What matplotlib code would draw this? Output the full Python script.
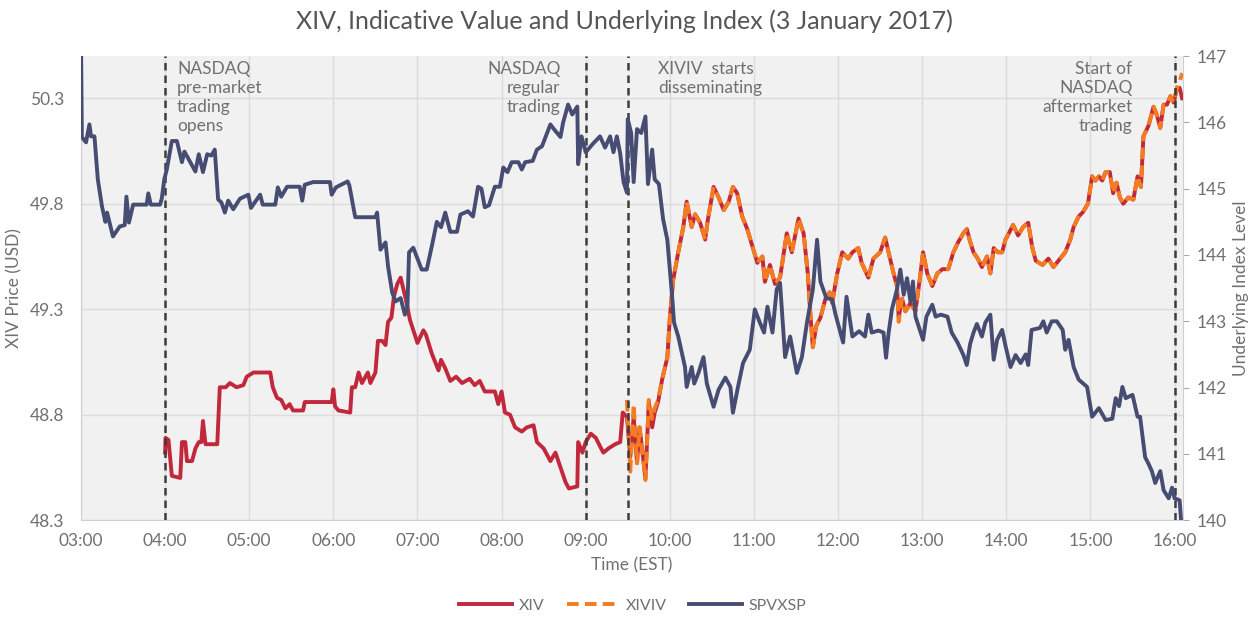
import matplotlib.pyplot as plt
import numpy as np

# time in decimal hours (EST)
spv_t = [3.00, 3.01, 3.06, 3.10, 3.12, 3.16, 3.20, 3.25, 3.29, 3.31, 3.38, 3.46, 3.52, 3.54, 3.57,
         3.62, 3.78, 3.80, 3.83, 3.94, 3.96, 3.99, 4.02, 4.08, 4.14, 4.20, 4.23, 4.30, 4.36, 4.40,
         4.45, 4.50, 4.55, 4.59, 4.63, 4.67, 4.71, 4.75, 4.81, 4.89, 4.99, 5.02, 5.13, 5.16, 5.31,
         5.34, 5.38, 5.45, 5.60, 5.63, 5.66, 5.76, 5.96, 5.98, 6.03, 6.17, 6.19, 6.26, 6.50, 6.52,
         6.56, 6.62, 6.65, 6.70, 6.74, 6.80, 6.85, 6.88, 6.90, 6.95, 7.05, 7.11, 7.17, 7.23, 7.28,
         7.33, 7.39, 7.47, 7.51, 7.60, 7.66, 7.72, 7.76, 7.80, 7.85, 7.92, 7.98, 8.02, 8.07, 8.12,
         8.20, 8.24, 8.28, 8.37, 8.42, 8.48, 8.58, 8.64, 8.70, 8.73, 8.79, 8.84, 8.90, 8.91, 8.95,
         9.00, 9.08, 9.17, 9.23, 9.29, 9.33, 9.37, 9.41, 9.45, 9.49, 9.50, 9.54, 9.57, 9.61, 9.66,
         9.71, 9.74, 9.79, 9.82, 9.87, 9.92, 9.97, 10.03, 10.05, 10.10, 10.18, 10.20, 10.26, 10.29,
         10.34, 10.40, 10.44, 10.52, 10.58, 10.66, 10.72, 10.75, 10.81, 10.87, 10.95, 11.01, 11.07,
         11.12, 11.16, 11.22, 11.27, 11.31, 11.37, 11.43, 11.51, 11.57, 11.63, 11.70, 11.75, 11.79,
         11.86, 11.93, 11.97, 12.06, 12.10, 12.17, 12.25, 12.32, 12.36, 12.40, 12.48, 12.54, 12.57,
         12.60, 12.64, 12.70, 12.74, 12.78, 12.82, 12.86, 12.89, 12.92, 13.01, 13.05, 13.12, 13.16,
         13.22, 13.30, 13.35, 13.42, 13.49, 13.53, 13.57, 13.61, 13.65, 13.71, 13.75, 13.81, 13.85,
         13.89, 13.95, 13.99, 14.05, 14.11, 14.17, 14.23, 14.26, 14.30, 14.40, 14.44, 14.48, 14.54,
         14.60, 14.67, 14.70, 14.74, 14.80, 14.86, 14.96, 15.02, 15.10, 15.18, 15.26, 15.30, 15.34,
         15.38, 15.42, 15.50, 15.56, 15.59, 15.65, 15.69, 15.73, 15.77, 15.83, 15.87, 15.93, 15.97,
         16.00, 16.06, 16.08]
spv_v = [147.3, 145.78, 145.70, 145.97, 145.79, 145.79, 145.14, 144.73, 144.50, 144.64, 144.28, 144.43,
         144.45, 144.88, 144.49, 144.76, 144.76, 144.93, 144.76, 144.76, 144.85, 145.14, 145.29, 145.72,
         145.72, 145.40, 145.56, 145.40, 145.26, 145.52, 145.25, 145.52, 145.50, 145.59, 144.84, 144.79,
         144.64, 144.82, 144.69, 144.85, 144.91, 144.71, 144.91, 144.76, 144.76, 145.02, 144.88, 145.03,
         145.03, 144.82, 145.06, 145.10, 145.10, 144.91, 145.02, 145.11, 145.05, 144.57, 144.57, 144.64,
         144.08, 144.19, 143.83, 143.43, 143.30, 143.35, 143.10, 143.20, 144.04, 144.11, 143.78, 143.78,
         144.13, 144.50, 144.42, 144.64, 144.35, 144.35, 144.61, 144.66, 144.58, 145.03, 145.00, 144.72,
         144.75, 145.03, 145.03, 145.32, 145.25, 145.40, 145.40, 145.29, 145.40, 145.42, 145.59, 145.64,
         145.97, 145.87, 145.78, 145.99, 146.27, 146.12, 146.24, 145.37, 145.79, 145.55, 145.67, 145.79,
         145.62, 145.79, 145.55, 145.79, 145.53, 145.10, 144.94, 146.05, 145.84, 145.10, 145.90, 145.84,
         146.09, 145.07, 145.59, 145.14, 145.07, 144.54, 144.23, 143.33, 142.98, 142.77, 142.31, 142.01,
         142.31, 142.06, 142.22, 142.46, 142.06, 141.71, 141.97, 142.15, 142.01, 141.62, 142.01, 142.37,
         142.57, 143.18, 142.98, 142.83, 143.22, 142.83, 143.48, 143.58, 142.46, 142.77, 142.22, 142.46,
         142.98, 143.48, 144.23, 143.60, 143.35, 143.33, 143.10, 142.68, 143.37, 142.77, 142.85, 142.77,
         143.10, 142.83, 142.86, 142.83, 142.45, 142.82, 143.18, 143.48, 143.78, 143.40, 143.65, 143.30,
         143.60, 143.07, 142.72, 143.07, 143.25, 143.07, 143.10, 143.07, 142.83, 142.68, 142.49, 142.34,
         142.66, 142.83, 142.96, 142.77, 142.98, 143.10, 142.42, 142.72, 142.87, 142.63, 142.31, 142.49,
         142.37, 142.50, 142.34, 142.87, 142.90, 143.00, 142.83, 143.00, 143.00, 142.87, 142.57, 142.72,
         142.31, 142.12, 142.01, 141.56, 141.69, 141.51, 141.53, 141.84, 141.72, 142.01, 141.84, 141.89,
         141.56, 141.56, 140.95, 140.85, 140.74, 140.56, 140.74, 140.45, 140.33, 140.49, 140.33, 140.30,
         139.95]

xiv_t = [4.00, 4.005, 4.04, 4.08, 4.18, 4.20, 4.24, 4.26, 4.32, 4.36, 4.40, 4.43, 4.45, 4.48, 4.62,
         4.65, 4.72, 4.77, 4.85, 4.93, 4.97, 5.05, 5.25, 5.28, 5.33, 5.38, 5.43, 5.48, 5.52, 5.64,
         5.66, 5.98, 6.00, 6.02, 6.06, 6.20, 6.22, 6.26, 6.30, 6.34, 6.41, 6.44, 6.50, 6.53, 6.58,
         6.62, 6.65, 6.69, 6.72, 6.76, 6.80, 6.86, 6.91, 7.00, 7.07, 7.10, 7.17, 7.25, 7.28, 7.33,
         7.39, 7.46, 7.53, 7.62, 7.68, 7.74, 7.80, 7.92, 7.96, 8.00, 8.04, 8.10, 8.16, 8.24, 8.30,
         8.38, 8.42, 8.50, 8.58, 8.64, 8.70, 8.76, 8.80, 8.90, 8.91, 8.96, 9.00, 9.06, 9.12, 9.17,
         9.21, 9.27, 9.35, 9.41, 9.44, 9.49, 9.53, 9.57, 9.61, 9.64, 9.71, 9.75, 9.79, 9.82, 9.86,
         9.91, 9.97, 10.00, 10.04, 10.10, 10.16, 10.20, 10.26, 10.30, 10.36, 10.42, 10.45, 10.52,
         10.58, 10.64, 10.70, 10.75, 10.80, 10.86, 10.92, 10.98, 11.04, 11.10, 11.13, 11.19, 11.25,
         11.31, 11.39, 11.45, 11.53, 11.59, 11.64, 11.67, 11.70, 11.74, 11.79, 11.85, 11.90, 11.93,
         11.99, 12.05, 12.12, 12.17, 12.24, 12.28, 12.36, 12.42, 12.50, 12.56, 12.60, 12.66, 12.70,
         12.72, 12.76, 12.80, 12.86, 12.92, 12.98, 13.01, 13.06, 13.12, 13.18, 13.24, 13.31, 13.37,
         13.43, 13.49, 13.53, 13.57, 13.61, 13.66, 13.71, 13.77, 13.81, 13.85, 13.90, 13.95, 13.99,
         14.03, 14.08, 14.14, 14.20, 14.26, 14.31, 14.35, 14.43, 14.50, 14.56, 14.62, 14.70, 14.76,
         14.80, 14.86, 14.91, 14.97, 15.02, 15.06, 15.10, 15.14, 15.18, 15.23, 15.27, 15.31, 15.35,
         15.39, 15.45, 15.51, 15.56, 15.60, 15.63, 15.69, 15.75, 15.79, 15.83, 15.87, 15.91, 15.95,
         15.99, 16.03, 16.06, 16.09]
xiv_v = [48.62, 48.69, 48.68, 48.51, 48.50, 48.67, 48.67, 48.58, 48.58, 48.64, 48.67, 48.67, 48.77,
         48.66, 48.66, 48.93, 48.93, 48.95, 48.93, 48.94, 48.98, 49.00, 49.00, 48.93, 48.88, 48.87,
         48.83, 48.85, 48.82, 48.82, 48.86, 48.86, 48.92, 48.84, 48.82, 48.81, 48.93, 48.93, 49.00,
         48.95, 49.00, 48.95, 49.00, 49.15, 49.15, 49.13, 49.24, 49.26, 49.36, 49.42, 49.45, 49.35,
         49.25, 49.14, 49.20, 49.18, 49.09, 49.01, 49.06, 49.02, 48.96, 48.98, 48.95, 48.97, 48.94,
         48.96, 48.91, 48.91, 48.85, 48.91, 48.81, 48.80, 48.74, 48.72, 48.74, 48.75, 48.67, 48.64,
         48.58, 48.62, 48.55, 48.48, 48.45, 48.46, 48.67, 48.62, 48.67, 48.71, 48.69, 48.65, 48.62,
         48.64, 48.66, 48.67, 48.81, 48.79, 48.60, 48.79, 48.57, 48.74, 48.50, 48.86, 48.74, 48.81,
         48.86, 48.97, 49.07, 49.26, 49.44, 49.57, 49.69, 49.81, 49.69, 49.75, 49.71, 49.63, 49.72,
         49.88, 49.83, 49.77, 49.81, 49.88, 49.85, 49.74, 49.68, 49.60, 49.52, 49.55, 49.43, 49.51,
         49.42, 49.45, 49.66, 49.57, 49.73, 49.66, 49.47, 49.28, 49.12, 49.22, 49.26, 49.35, 49.38,
         49.33, 49.47, 49.57, 49.54, 49.57, 49.59, 49.52, 49.45, 49.54, 49.57, 49.64, 49.57, 49.47,
         49.41, 49.26, 49.35, 49.29, 49.33, 49.29, 49.47, 49.57, 49.47, 49.41, 49.47, 49.49, 49.49,
         49.57, 49.62, 49.66, 49.68, 49.62, 49.57, 49.54, 49.50, 49.55, 49.47, 49.59, 49.57, 49.57,
         49.63, 49.66, 49.70, 49.65, 49.69, 49.71, 49.59, 49.53, 49.51, 49.54, 49.50, 49.53, 49.57,
         49.63, 49.69, 49.74, 49.76, 49.80, 49.93, 49.91, 49.93, 49.91, 49.95, 49.95, 49.85, 49.90,
         49.83, 49.80, 49.83, 49.82, 49.93, 49.88, 50.12, 50.17, 50.26, 50.22, 50.16, 50.27, 50.27,
         50.31, 50.28, 50.35, 50.35, 50.30]

xiviv_t = [9.49, 9.53, 9.57, 9.61, 9.64, 9.71, 9.75, 9.79, 9.82, 9.86, 9.91, 9.97, 10.00, 10.04,
           10.10, 10.16, 10.20, 10.26, 10.30, 10.36, 10.42, 10.45, 10.52, 10.58, 10.64, 10.70, 10.75,
           10.80, 10.86, 10.92, 10.98, 11.04, 11.10, 11.13, 11.19, 11.25, 11.31, 11.39, 11.45, 11.53,
           11.59, 11.64, 11.67, 11.70, 11.74, 11.79, 11.85, 11.90, 11.93, 11.99, 12.05, 12.12, 12.17,
           12.24, 12.28, 12.36, 12.42, 12.50, 12.56, 12.60, 12.66, 12.70, 12.72, 12.76, 12.80, 12.86,
           12.92, 12.98, 13.01, 13.06, 13.12, 13.18, 13.24, 13.31, 13.37, 13.43, 13.49, 13.53, 13.57,
           13.61, 13.66, 13.71, 13.77, 13.81, 13.85, 13.90, 13.95, 13.99, 14.03, 14.08, 14.14, 14.20,
           14.26, 14.31, 14.35, 14.43, 14.50, 14.56, 14.62, 14.70, 14.76, 14.80, 14.86, 14.91, 14.97,
           15.02, 15.06, 15.10, 15.14, 15.18, 15.23, 15.27, 15.31, 15.35, 15.39, 15.45, 15.51, 15.56,
           15.60, 15.63, 15.69, 15.75, 15.79, 15.83, 15.87, 15.91, 15.95, 15.99, 16.03, 16.06, 16.09]
xiviv_v = [48.87, 48.53, 48.85, 48.57, 48.74, 48.49, 48.87, 48.78, 48.83, 48.87, 48.97, 49.07, 49.26,
           49.44, 49.57, 49.69, 49.81, 49.69, 49.75, 49.71, 49.63, 49.72, 49.88, 49.83, 49.77, 49.81,
           49.88, 49.85, 49.74, 49.68, 49.60, 49.52, 49.55, 49.43, 49.51, 49.42, 49.45, 49.66, 49.57,
           49.73, 49.66, 49.47, 49.28, 49.12, 49.22, 49.26, 49.35, 49.38, 49.33, 49.47, 49.57, 49.54,
           49.57, 49.59, 49.52, 49.45, 49.54, 49.57, 49.64, 49.57, 49.47, 49.41, 49.24, 49.35, 49.29,
           49.33, 49.29, 49.47, 49.57, 49.47, 49.41, 49.47, 49.49, 49.49, 49.57, 49.62, 49.66, 49.68,
           49.62, 49.57, 49.54, 49.50, 49.55, 49.47, 49.59, 49.57, 49.57, 49.63, 49.66, 49.70, 49.65,
           49.69, 49.71, 49.59, 49.53, 49.51, 49.54, 49.50, 49.53, 49.57, 49.63, 49.69, 49.74, 49.76,
           49.80, 49.93, 49.91, 49.93, 49.91, 49.95, 49.95, 49.85, 49.90, 49.83, 49.80, 49.83, 49.82,
           49.93, 49.88, 50.12, 50.17, 50.26, 50.22, 50.16, 50.27, 50.27, 50.31, 50.28, 50.35, 50.38,
           50.42]

event_t = [4.0, 9.0, 9.5, 16.0]
hour_labels = ['03:00', '04:00', '05:00', '06:00', '07:00', '08:00', '09:00',
               '10:00', '11:00', '12:00', '13:00', '14:00', '15:00', '16:00']
left_ticks = [48.3, 48.8, 49.3, 49.8, 50.3]
right_ticks = [140, 141, 142, 143, 144, 145, 146, 147]

RED = '#c1283b'
ORANGE = '#f47b20'
NAVY = '#474d72'
TXT = '#707070'

plt.rcParams['font.family'] = ['Lato', 'DejaVu Sans']

fig = plt.figure(figsize=(12.48, 6.17), dpi=100)
ax = fig.add_axes([0.0649, 0.157, 0.883, 0.752])
ax.set_facecolor('#f1f1f1')

ax.plot(xiv_t, xiv_v, color=RED, lw=2.8, label='XIV', zorder=3)
ax.plot(xiviv_t, xiviv_v, color=ORANGE, lw=2.8, linestyle=(0, (3, 1.6)), label='XIVIV', zorder=4)
for t in event_t:
    ax.axvline(t, color='#3d3d3d', lw=1.8, linestyle=(0, (3, 2)), zorder=5)

ax.set_xlim(3, 16.1)
ax.set_ylim(48.3, 50.5)
ax.set_xticks(np.arange(3, 17))
ax.set_xticklabels(hour_labels)
ax.set_yticks(left_ticks)
ax.set_yticklabels(['%.1f' % v for v in left_ticks])
ax.grid(True, color='#dcdcdc', lw=1)
ax.set_axisbelow(True)
ax.tick_params(axis='both', length=0, labelsize=12.5, labelcolor=TXT, pad=9)
ax.tick_params(axis='y', pad=12)
for s in ['top', 'right']:
    ax.spines[s].set_visible(False)
for s in ['left', 'bottom']:
    ax.spines[s].set_color('#cfcfcf')
ax.set_xlabel('Time (EST)', fontsize=12.5, color=TXT, labelpad=6)
ax.set_ylabel('XIV Price (USD)', fontsize=12.5, color=TXT, labelpad=5)

ax2 = ax.twinx()
ax2.plot(spv_t, spv_v, color=NAVY, lw=2.8, label='SPVXSP', zorder=3)
ax2.set_ylim(140, 147)
ax2.set_yticks(right_ticks)
ax2.tick_params(axis='y', length=4, color='#aaaaaa', labelsize=12.5, labelcolor=TXT, pad=6)
for s in ['top', 'left', 'bottom']:
    ax2.spines[s].set_visible(False)
ax2.spines['right'].set_color('#cfcfcf')
ax2.set_ylabel('Underlying Index Level', fontsize=12.5, color=TXT, labelpad=4)

note = dict(fontsize=12.5, color=TXT, va='top', linespacing=1.22, zorder=6)
ax.text(4.14, 50.475, 'NASDAQ\npre-market\ntrading\nopens', ha='left', **note)
ax.text(8.70, 50.475, 'NASDAQ\nregular\ntrading', ha='right', multialignment='right', **note)
ax.text(9.86, 50.475, 'XIVIV  starts\ndisseminating', ha='left', **note)
ax.text(15.50, 50.475, 'Start of\nNASDAQ\naftermarket\ntrading', ha='right', multialignment='right', **note)

fig.suptitle('XIV, Indicative Value and Underlying Index (3 January 2017)', x=0.5, y=0.985,
             fontsize=18, color='#555555')

h1, l1 = ax.get_legend_handles_labels()
h2, l2 = ax2.get_legend_handles_labels()
fig.legend(h1 + h2, l1 + l2, loc='center', bbox_to_anchor=(0.507, 0.018), ncol=3, frameon=False,
           fontsize=11.5, labelcolor=TXT, handlelength=3.3, columnspacing=1.4, handletextpad=0.4)

fig.savefig('out.png', dpi=100)
